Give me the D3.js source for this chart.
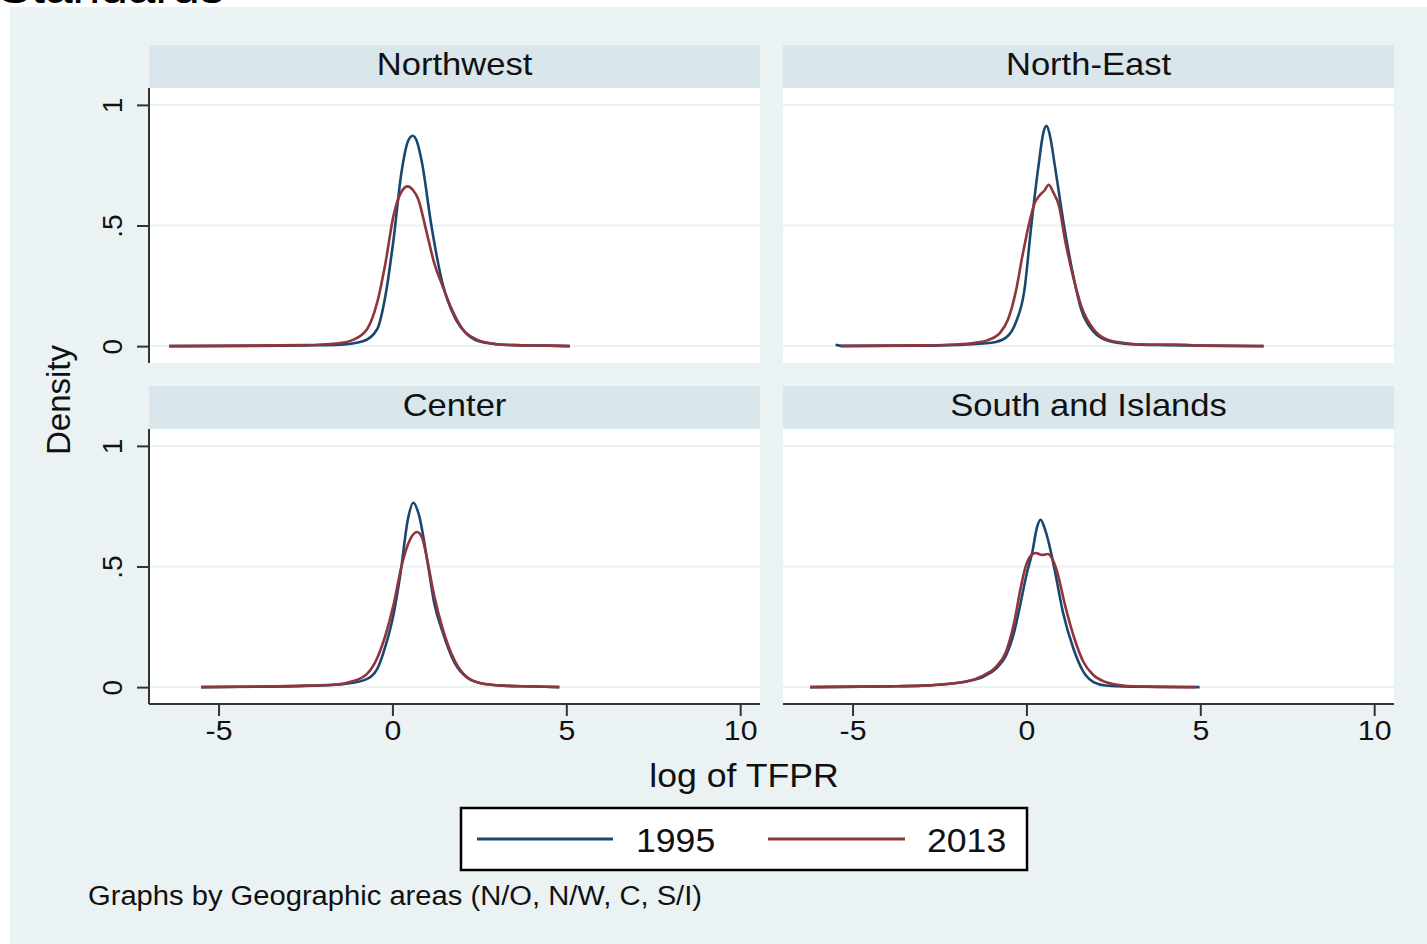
<!DOCTYPE html>
<html>
<head>
<meta charset="utf-8">
<script src="https://cdn.jsdelivr.net/npm/d3@7"></script>
<style>
  html, body { margin: 0; padding: 0; background: #fff; }
</style>
</head>
<body>
<div id="chart"></div>
<script>
// Panel names (by geographic area) and legend years
var panelNames = ['Northwest', 'North-East', 'Center', 'South and Islands'];
var years = ['1995', '2013'];
var xTicks = [-5, 0, 5, 10];
var yTicks = [0, 0.5, 1];
var yTickLabels = ['0', '.5', '1'];

// Kernel density readings, [log TFPR, density]
var northwest1995 = [[-6.42,0],[-4,0.001],[-2.5,0.003],[-1.5,0.006],[-0.85,0.02],[-0.44,0.07],[-0.2,0.21],[0.03,0.44],[0.26,0.72],[0.45,0.85],[0.58,0.872],[0.7,0.85],[0.85,0.76],[1.12,0.5],[1.44,0.26],[1.79,0.12],[2.14,0.05],[2.49,0.02],[3.0,0.008],[3.5,0.004],[4.5,0.002],[5.1,0]];
var northwest2013 = [[-6.42,0],[-4,0.002],[-2.5,0.004],[-1.61,0.011],[-1.15,0.025],[-0.73,0.07],[-0.44,0.18],[-0.2,0.345],[0.03,0.54],[0.26,0.64],[0.44,0.662],[0.6,0.645],[0.74,0.61],[0.97,0.48],[1.2,0.345],[1.44,0.25],[1.67,0.165],[2.02,0.07],[2.38,0.03],[2.85,0.011],[3.5,0.004],[4.5,0.002],[5.1,0]];
var northeast1995 = [[-5.49,0.006],[-5.3,0.001],[-3,0.002],[-2,0.005],[-1.0,0.014],[-0.59,0.035],[-0.3,0.1],[-0.06,0.23],[0.14,0.5],[0.35,0.75],[0.48,0.88],[0.58,0.913],[0.68,0.87],[0.82,0.745],[1.08,0.5],[1.35,0.29],[1.58,0.15],[1.93,0.06],[2.4,0.02],[3,0.008],[4,0.004],[5,0.002],[6.82,0]];
var northeast2013 = [[-5.34,0],[-3,0.003],[-2,0.007],[-1.47,0.014],[-1.11,0.025],[-0.76,0.055],[-0.53,0.11],[-0.3,0.23],[-0.12,0.37],[0.08,0.51],[0.23,0.59],[0.38,0.625],[0.52,0.645],[0.64,0.669],[0.78,0.635],[0.94,0.58],[1.11,0.44],[1.29,0.32],[1.58,0.165],[1.93,0.07],[2.28,0.03],[2.76,0.014],[3.5,0.006],[4.3,0.006],[5,0.002],[6.82,0]];
var center1995 = [[-5.5,0],[-3.5,0.002],[-2.5,0.005],[-1.5,0.011],[-0.79,0.03],[-0.44,0.075],[-0.2,0.17],[0.03,0.3],[0.23,0.47],[0.45,0.7],[0.6,0.764],[0.75,0.72],[1.03,0.5],[1.2,0.35],[1.44,0.23],[1.79,0.1],[2.14,0.04],[2.61,0.014],[3.2,0.006],[4,0.003],[4.8,0]];
var center2013 = [[-5.5,0],[-3.5,0.003],[-2.5,0.006],[-1.61,0.011],[-1.15,0.024],[-0.73,0.055],[-0.44,0.12],[-0.2,0.215],[0.03,0.34],[0.26,0.5],[0.5,0.61],[0.71,0.643],[0.85,0.62],[0.97,0.55],[1.2,0.38],[1.44,0.245],[1.79,0.11],[2.14,0.042],[2.61,0.014],[3.2,0.006],[4,0.003],[4.8,0]];
var south1995 = [[-6.22,0],[-4,0.003],[-3,0.006],[-2.4,0.011],[-1.7,0.024],[-1.23,0.044],[-0.88,0.076],[-0.59,0.13],[-0.35,0.23],[-0.18,0.34],[0,0.465],[0.17,0.56],[0.3,0.66],[0.41,0.694],[0.52,0.66],[0.64,0.6],[0.82,0.48],[1.05,0.31],[1.35,0.16],[1.64,0.063],[1.93,0.021],[2.28,0.007],[3,0.002],[4.98,0]];
var south2013 = [[-6.22,0],[-4,0.003],[-3,0.006],[-2.4,0.012],[-1.7,0.024],[-1.23,0.049],[-0.88,0.083],[-0.59,0.146],[-0.35,0.27],[-0.18,0.4],[-0.06,0.48],[0.1,0.54],[0.27,0.556],[0.45,0.548],[0.62,0.552],[0.75,0.53],[0.88,0.48],[1.11,0.34],[1.35,0.215],[1.64,0.104],[1.93,0.049],[2.28,0.021],[2.76,0.007],[3.5,0.002],[4.87,0]];

var panelSeries = [
  [northwest1995, northwest2013],
  [northeast1995, northeast2013],
  [center1995, center2013],
  [south1995, south2013]
];

function DensityPanels() {

  var attrs = {
    svgWidth: 1427,
    svgHeight: 944,
    container: '#chart',
    pageColor: '#ffffff',
    graphColor: '#eaf2f3',
    stripColor: '#d9e6eb',
    gridColor: '#eaf2f3',
    seriesColors: ['#1a476f', '#90353b'],
    textColor: '#111111',
    defaultFont: '"Liberation Sans", Arial, Helvetica, sans-serif',
    textStretch: 1.08,   // the source is a bit wider than Helvetica
    colLeft: [149, 783],
    plotWidth: 611,
    rowTop: [45, 386],
    stripHeight: 43,
    plotHeight: 275
  };

  var main = function () {
    var svg = d3.select(attrs.container).append('svg')
      .attr('width', attrs.svgWidth)
      .attr('height', attrs.svgHeight)
      .attr('font-family', attrs.defaultFont)
      .style('display', 'block');

    svg.append('rect').attr('width', attrs.svgWidth).attr('height', attrs.svgHeight).attr('fill', attrs.pageColor);

    // heading of the page, cut off by the top edge
    addText(svg, -2, 3, 46, 'start', 'Standards').attr('fill', '#000');

    // graph region
    svg.append('rect')
      .attr('x', 10).attr('y', 7)
      .attr('width', attrs.svgWidth - 10).attr('height', attrs.svgHeight - 7)
      .attr('fill', attrs.graphColor);

    var xScales = attrs.colLeft.map(function (left) {
      return d3.scaleLinear().domain([-7, 10.57]).range([left, left + attrs.plotWidth]);
    });
    var yScales = attrs.rowTop.map(function (top) {
      var plotTop = top + attrs.stripHeight;
      return d3.scaleLinear().domain([-0.07, 1.07]).range([plotTop + attrs.plotHeight, plotTop]);
    });

    var line = d3.line().curve(d3.curveMonotoneX);

    panelNames.forEach(function (name, i) {
      var col = i % 2, row = Math.floor(i / 2);
      var x = xScales[col], y = yScales[row];
      var left = attrs.colLeft[col], top = attrs.rowTop[row];
      var plotTop = top + attrs.stripHeight;
      var g = svg.append('g').attr('class', 'panel');

      // strip
      g.append('rect')
        .attr('x', left).attr('y', top)
        .attr('width', attrs.plotWidth).attr('height', attrs.stripHeight)
        .attr('fill', attrs.stripColor);
      addText(g, left + attrs.plotWidth / 2, top + 30, 32, 'middle', name);

      // plot region
      g.append('rect')
        .attr('x', left).attr('y', plotTop)
        .attr('width', attrs.plotWidth).attr('height', attrs.plotHeight)
        .attr('fill', '#ffffff');

      g.selectAll('.grid').data(yTicks).enter().append('line')
        .attr('class', 'grid')
        .attr('x1', left).attr('x2', left + attrs.plotWidth)
        .attr('y1', function (d) { return y(d); })
        .attr('y2', function (d) { return y(d); })
        .attr('stroke', attrs.gridColor)
        .attr('stroke-width', 2);

      // y axis only on left column
      if (col === 0) {
        var yAxis = d3.axisLeft(y).tickValues(yTicks).tickSize(12)
          .tickFormat(function (d, k) { return yTickLabels[k]; });
        var ya = g.append('g').attr('transform', 'translate(' + left + ',0)').call(yAxis);
        ya.select('.domain').attr('d', 'M0,' + plotTop + 'V' + (plotTop + attrs.plotHeight));
        styleAxis(ya);
        ya.selectAll('.tick text')
          .attr('text-anchor', 'middle')
          .attr('x', -27).attr('y', 0).attr('dy', '0')
          .attr('transform', 'rotate(-90,-27,0)');
      }

      // x axis only on bottom row
      if (row === 1) {
        var xAxis = d3.axisBottom(x).tickValues(xTicks).tickSize(12).tickPadding(0)
          .tickFormat(function (d) { return String(d); });
        var xa = g.append('g').attr('transform', 'translate(0,' + (plotTop + attrs.plotHeight) + ')').call(xAxis);
        xa.select('.domain').attr('d', 'M' + left + ',0H' + (left + attrs.plotWidth));
        styleAxis(xa);
        xa.selectAll('.tick text').attr('dy', '0.85em')
          .attr('transform', 'scale(' + attrs.textStretch + ',1)');
      }

      // density curves
      panelSeries[i].forEach(function (series, s) {
        g.append('path')
          .attr('d', line(series.map(function (p) { return [x(p[0]), y(p[1])]; })))
          .attr('fill', 'none')
          .attr('stroke', attrs.seriesColors[s])
          .attr('stroke-width', 2.6)
          .attr('stroke-linejoin', 'round');
      });
    });

    // axis titles
    svg.append('text')
      .attr('transform', 'translate(70,400) rotate(-90)')
      .attr('text-anchor', 'middle')
      .attr('font-size', 33)
      .attr('fill', attrs.textColor)
      .text('Density');

    addText(svg, 744, 787, 33, 'middle', 'log of TFPR');

    // legend
    var legend = svg.append('g').attr('class', 'legend');
    legend.append('rect')
      .attr('x', 461).attr('y', 808).attr('width', 566).attr('height', 62)
      .attr('fill', '#ffffff').attr('stroke', '#000').attr('stroke-width', 2.5);
    var legendX = [[477, 613, 636], [768, 905, 927]];
    years.forEach(function (yr, k) {
      legend.append('line')
        .attr('x1', legendX[k][0]).attr('x2', legendX[k][1])
        .attr('y1', 839).attr('y2', 839)
        .attr('stroke', attrs.seriesColors[k]).attr('stroke-width', 3);
      addText(legend, legendX[k][2], 852, 33, 'start', yr);
    });

    // note
    addText(svg, 88, 905, 27, 'start', 'Graphs by Geographic areas (N/O, N/W, C, S/I)');

    function addText(parent, x, y, size, anchor, str) {
      return parent.append('text')
        .attr('transform', 'translate(' + x + ',' + y + ') scale(' + attrs.textStretch + ',1)')
        .attr('text-anchor', anchor)
        .attr('font-size', size)
        .attr('fill', attrs.textColor)
        .text(str);
    }

    function styleAxis(sel) {
      sel.select('.domain').attr('stroke', '#333').attr('stroke-width', 2);
      sel.selectAll('.tick line').attr('stroke', '#333').attr('stroke-width', 2);
      sel.selectAll('.tick text')
        .attr('font-size', 28)
        .attr('font-family', attrs.defaultFont)
        .attr('fill', attrs.textColor);
    }
  };

  main.render = function () {
    main();
    return main;
  };

  return main;
}

DensityPanels().render();
</script>
</body>
</html>
